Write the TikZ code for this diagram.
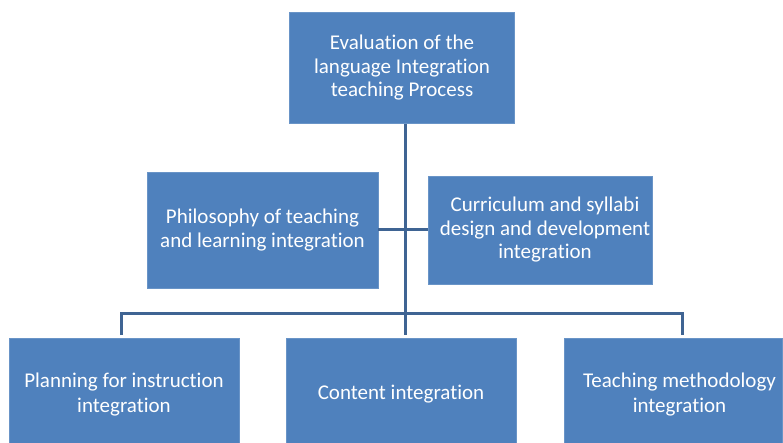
\documentclass[tikz,border=0pt]{standalone}
\usepackage{fontspec}
\setmainfont[Ligatures=NoCommon]{Carlito}
\definecolor{boxblue}{HTML}{4F81BD}
\definecolor{linkblue}{HTML}{3F6493}
\begin{document}
\begin{tikzpicture}[x=1pt,y=-1pt,
  box/.style={rectangle, fill=boxblue, draw=boxblue!85!white, line width=0.6pt,
    inner sep=0pt, text=white, align=center,
    font=\fontsize{21}{23.5}\selectfont},
  lowtext/.style={text=white, align=center, inner sep=0pt,
    font=\fontsize{21}{25}\selectfont, yshift=-4pt},
  link/.style={draw=linkblue, line width=3pt}]
\useasboundingbox (0,0) rectangle (783,443);
\node[box, minimum width=225pt, minimum height=111pt] (top) at (402,68)
  {Evaluation of the\\language Integration\\teaching Process};
\node[box, minimum width=231pt, minimum height=116pt] (phil) at (262.5,230)
  {Philosophy of teaching\\and learning integration};
\node[box, minimum width=224pt, minimum height=108pt] (curr) at (540,230)
  {\hspace*{10pt}Curriculum and syllabi\\\hspace*{10pt}design and development\\\hspace*{10pt}integration};
\node[box, minimum width=230pt, minimum height=105pt,
  label={[lowtext]center:{Planning for instruction\\integration}}] (plan) at (124,390.5) {};
\node[box, minimum width=230pt, minimum height=105pt,
  label={[lowtext]center:{Content integration}}] (cont) at (401,390.5) {};
\node[box, minimum width=218pt, minimum height=105pt,
  label={[lowtext, xshift=6.5pt]center:{Teaching methodology\\integration}}] (meth) at (673,390.5) {};
\coordinate (bus) at (405,313);
\coordinate (dl) at (121.5,335);
\coordinate (dr) at (682.5,335);
\draw[link] (top.south -| bus) -- (bus);
\draw[link] (phil.east) -- (curr.west);
\draw[link] (cont.north -| bus) ++(0,-3) -- (bus);
\draw[link] (dl) |- (bus) -| (dr);
\end{tikzpicture}
\end{document}
